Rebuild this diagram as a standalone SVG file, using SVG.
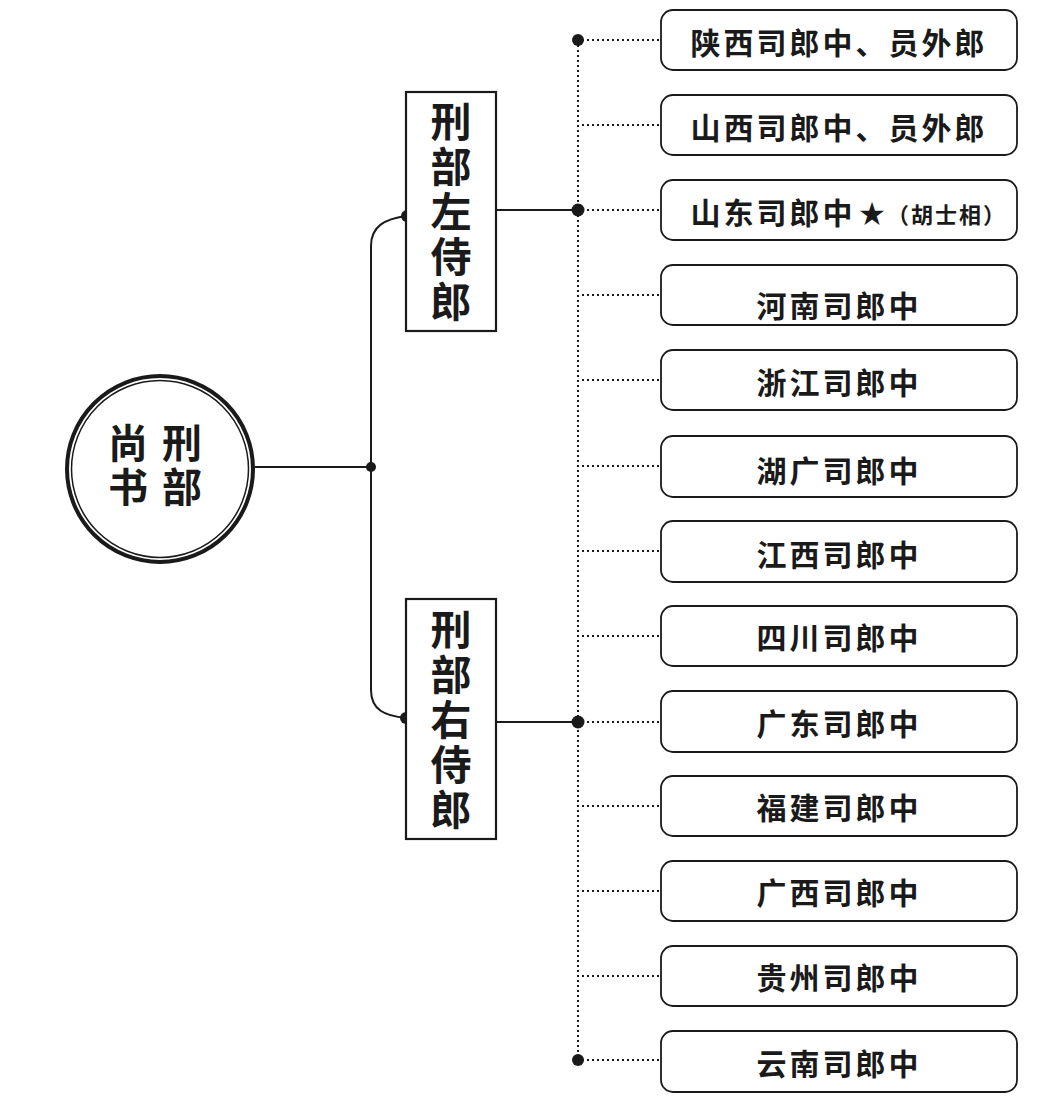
<svg xmlns="http://www.w3.org/2000/svg" width="1038" height="1116" viewBox="0 0 1038 1116">
<style>
text{font-family:"Noto Sans CJK SC","Noto Sans CJK TC",sans-serif;font-weight:bold;fill:#1a1a1a;text-anchor:middle;dominant-baseline:central}
.sub{font-size:30px;letter-spacing:3px}
.vert{font-size:41px;writing-mode:vertical-rl;letter-spacing:4px}
.cvert{font-size:40px;writing-mode:vertical-rl;letter-spacing:4px}
.box{fill:#fff;stroke:#1a1a1a;stroke-width:2.2}
.rbox{fill:#fff;stroke:#1a1a1a;stroke-width:1.8}
.solid{fill:none;stroke:#1a1a1a;stroke-width:2}
.dot{fill:none;stroke:#1a1a1a;stroke-width:2;stroke-dasharray:2 3}
.jn{fill:#1a1a1a}
</style>
<rect width="1038" height="1116" fill="#fff"/>
<g id="connectors">
<line class="solid" x1="255" y1="467" x2="371" y2="467"/>
<path class="solid" d="M406,216 C385,219 371,226 371,246 L371,690 C371,710 385,716 406,718"/>
<line class="solid" x1="496" y1="210" x2="578" y2="210"/>
<line class="solid" x1="496" y1="722" x2="578" y2="722"/>
<line class="dot" x1="578" y1="40" x2="578" y2="1060"/>
<g>
<line class="dot" x1="582" y1="40" x2="660" y2="40"/>
<line class="dot" x1="582" y1="125" x2="660" y2="125"/>
<line class="dot" x1="582" y1="210" x2="660" y2="210"/>
<line class="dot" x1="582" y1="295" x2="660" y2="295"/>
<line class="dot" x1="582" y1="380" x2="660" y2="380"/>
<line class="dot" x1="582" y1="466" x2="660" y2="466"/>
<line class="dot" x1="582" y1="551" x2="660" y2="551"/>
<line class="dot" x1="582" y1="636" x2="660" y2="636"/>
<line class="dot" x1="582" y1="722" x2="660" y2="722"/>
<line class="dot" x1="582" y1="806" x2="660" y2="806"/>
<line class="dot" x1="582" y1="891" x2="660" y2="891"/>
<line class="dot" x1="582" y1="976" x2="660" y2="976"/>
<line class="dot" x1="582" y1="1060" x2="660" y2="1060"/>
</g>
<circle class="jn" cx="371" cy="467" r="5"/>
<circle class="jn" cx="407" cy="216" r="6"/>
<circle class="jn" cx="406" cy="718" r="6"/>
<circle class="jn" cx="578" cy="40" r="6"/>
<circle class="jn" cx="578" cy="210" r="6.5"/>
<circle class="jn" cx="578" cy="722" r="6.5"/>
<circle class="jn" cx="578" cy="1060" r="6"/>
</g>
<g id="n-shangshu">
<circle cx="160" cy="469" r="93" fill="#fff" stroke="#1a1a1a" stroke-width="4"/>
<circle cx="160" cy="469" r="88.5" fill="none" stroke="#1a1a1a" stroke-width="1.5"/>
<text class="cvert" x="182" y="467">刑部</text>
<text class="cvert" x="128" y="467">尚书</text>
</g>
<g id="n-zuoshilang">
<rect class="box" x="406" y="92" width="90" height="239"/>
<text class="vert" x="451" y="213">刑部左侍郎</text>
</g>
<g id="n-youshilang">
<rect class="box" x="406" y="599" width="90" height="240"/>
<text class="vert" x="451" y="721">刑部右侍郎</text>
</g>
<g id="n-shaanxi"><rect class="rbox" x="661" y="10" width="356" height="60" rx="12"/><text class="sub" x="839" y="41">陕西司郎中、员外郎</text></g>
<g id="n-shanxi"><rect class="rbox" x="661" y="95" width="356" height="60" rx="12"/><text class="sub" x="839" y="126">山西司郎中、员外郎</text></g>
<g id="n-shandong"><rect class="rbox" x="661" y="180" width="356" height="60" rx="12"/><text class="sub" x="773" y="211">山东司郎中</text><text x="872" y="211" font-size="26">★</text><text x="947" y="213" font-size="22" letter-spacing="2">（胡士相）</text></g>
<g id="n-henan"><rect class="rbox" x="661" y="265" width="356" height="60" rx="12"/><text class="sub" x="839" y="304">河南司郎中</text></g>
<g id="n-zhejiang"><rect class="rbox" x="661" y="350" width="356" height="60" rx="12"/><text class="sub" x="839" y="381">浙江司郎中</text></g>
<g id="n-huguang"><rect class="rbox" x="661" y="436" width="356" height="61" rx="12"/><text class="sub" x="839" y="469">湖广司郎中</text></g>
<g id="n-jiangxi"><rect class="rbox" x="661" y="521" width="356" height="61" rx="12"/><text class="sub" x="839" y="553">江西司郎中</text></g>
<g id="n-sichuan"><rect class="rbox" x="661" y="606" width="356" height="60" rx="12"/><text class="sub" x="839" y="636">四川司郎中</text></g>
<g id="n-guangdong"><rect class="rbox" x="661" y="691" width="356" height="61" rx="12"/><text class="sub" x="839" y="722">广东司郎中</text></g>
<g id="n-fujian"><rect class="rbox" x="661" y="776" width="356" height="60" rx="12"/><text class="sub" x="839" y="806">福建司郎中</text></g>
<g id="n-guangxi"><rect class="rbox" x="661" y="861" width="356" height="60" rx="12"/><text class="sub" x="839" y="891">广西司郎中</text></g>
<g id="n-guizhou"><rect class="rbox" x="661" y="946" width="356" height="60" rx="12"/><text class="sub" x="839" y="976">贵州司郎中</text></g>
<g id="n-yunnan"><rect class="rbox" x="661" y="1031" width="356" height="61" rx="12"/><text class="sub" x="839" y="1062">云南司郎中</text></g>
</svg>
